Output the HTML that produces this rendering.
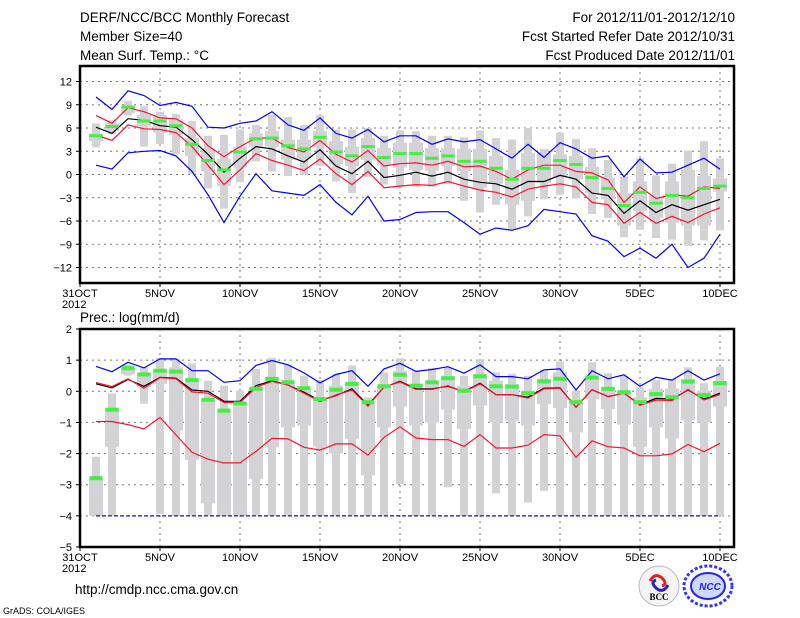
<!DOCTYPE html>
<html><head><meta charset="utf-8"><style>
body{margin:0;background:#fff;width:800px;height:618px;overflow:hidden}
svg{display:block}
text{font-family:"Liberation Sans",sans-serif;fill:#000}
</style></head><body>
<svg id="chart" width="800" height="618" xmlns="http://www.w3.org/2000/svg">
<g font-size="13.5">
<text x="80" y="22">DERF/NCC/BCC Monthly Forecast</text>
<text x="80" y="41">Member Size=40</text>
<text x="80" y="60">Mean Surf. Temp.: °C</text>
<text x="735" y="22" text-anchor="end">For 2012/11/01-2012/12/10</text>
<text x="735" y="41" text-anchor="end">Fcst Started Refer Date 2012/10/31</text>
<text x="735" y="60" text-anchor="end">Fcst Produced Date 2012/11/01</text>
<text x="80" y="322">Prec.: log(mm/d)</text>
<text x="75" y="594">http://cmdp.ncc.cma.gov.cn</text>
<text x="3" y="614" font-size="9">GrADS: COLA/IGES</text>
</g>
<g>
<circle cx="659" cy="586" r="20" fill="#f4f4f4" stroke="#bbb"/>
<path d="M650 581 q5 -9 12 -3 q6 6 0 8" fill="none" stroke="#d22" stroke-width="3"/>
<path d="M668 585 q-5 9 -12 3 q-6 -6 0 -8" fill="none" stroke="#22c" stroke-width="3"/>
<text x="659" y="600" font-size="9" text-anchor="middle" font-weight="bold" style="font-family:'Liberation Serif',serif">BCC</text>
</g>
<g>
<ellipse cx="708" cy="586" rx="24" ry="20" fill="#fff" stroke="#33f" stroke-width="3" stroke-dasharray="3 2"/>
<ellipse cx="708" cy="586" rx="17" ry="13" fill="#cfd8ff" stroke="#22f" stroke-width="2"/>
<text x="710" y="590" font-size="10" text-anchor="middle" font-weight="bold" font-style="italic" style="fill:#22f">NCC</text>
</g>
</svg>
<script>
// ---- data (days 1..40 : 2012/11/01 .. 2012/12/10)
const xTickLabels=["31OCT","5NOV","10NOV","15NOV","20NOV","25NOV","30NOV","5DEC","10DEC"];
const tTicks=[12,9,6,3,0,-3,-6,-9,-12];
const pTicks=[2,1,0,-1,-2,-3,-4,-5];
const tMaxLine=[10.0,8.4,10.8,10.2,8.9,9.3,8.8,6.1,6.0,6.6,6.9,8.1,6.4,5.7,7.3,5.3,4.7,5.8,4.2,5.0,5.0,3.9,4.6,4.2,4.5,3.3,2.1,3.9,2.2,4.1,3.3,2.1,2.4,-0.3,2.0,0.2,0.3,1.2,2.1,0.7];
const tMinLine=[1.2,0.7,2.8,3.0,3.1,2.4,0.4,-2.6,-6.2,-2.8,0.1,-2.1,-2.4,-2.7,-1.3,-3.6,-5.2,-2.8,-6.0,-5.8,-4.9,-4.8,-4.8,-6.2,-7.7,-6.9,-7.2,-6.6,-4.5,-4.8,-5.1,-7.9,-8.6,-10.6,-9.5,-10.8,-9.0,-12.0,-10.8,-7.7];
const tRedHi=[7.6,6.6,8.6,8.1,7.3,7.2,6.0,3.7,2.3,3.6,4.7,4.7,3.5,2.9,4.4,2.6,1.6,3.1,1.1,1.4,1.5,1.2,1.7,1.0,1.1,0.4,-0.6,0.6,1.2,1.2,0.4,0.2,-0.7,-3.6,-1.6,-3.1,-2.6,-2.8,-1.6,-1.8];
const tMean=[6.1,5.3,7.2,7.0,6.3,6.1,4.5,2.6,0.3,2.1,3.6,3.3,2.4,1.6,3.2,1.1,0.1,1.7,-0.4,-0.1,0.3,-0.2,0.3,-0.6,-1.0,-1.2,-1.9,-0.9,-0.9,-0.1,-0.6,-2.4,-2.7,-5.0,-3.4,-4.9,-3.9,-4.6,-3.9,-3.2];
const tRedLo=[5.1,4.4,6.4,5.9,5.8,5.4,3.6,1.2,-1.3,0.6,2.7,1.8,1.2,0.5,2.0,0.1,-1.3,0.4,-1.7,-1.5,-1.3,-1.4,-0.9,-1.5,-2.0,-2.3,-2.9,-1.9,-1.5,-1.2,-1.6,-3.6,-3.9,-6.3,-4.9,-6.3,-5.4,-6.2,-5.1,-4.3];
const tGreen=[5.0,6.2,8.7,6.9,6.9,6.3,3.9,1.8,0.6,2.9,4.6,4.7,3.7,3.3,4.8,2.9,2.4,3.6,2.2,2.7,2.7,2.1,2.4,1.7,1.7,0.8,-0.6,0.8,0.8,1.8,1.3,-0.4,-1.8,-4.0,-2.3,-3.7,-2.7,-3.0,-1.8,-1.5];
const tBoxMax=[6.6,7.0,9.5,8.8,8.1,7.8,6.9,5.0,5.1,5.8,6.4,7.7,7.4,6.4,7.7,5.8,5.8,6.0,5.0,5.7,5.6,5.0,5.0,4.8,5.7,4.7,4.5,6.0,3.3,5.4,4.6,3.4,1.9,-0.3,2.1,-0.1,1.4,3.1,4.3,2.1];
const tBoxQ3=[5.3,6.6,8.8,7.7,7.7,7.1,4.7,3.4,2.0,3.6,5.3,5.6,4.5,4.5,5.6,4.3,3.6,4.7,3.4,4.1,4.1,3.4,3.4,3.3,3.3,2.4,0.6,2.8,2.8,2.6,2.4,1.0,-0.4,-2.4,-0.9,-2.8,-0.9,0.6,-0.2,-0.5];
const tBoxQ1=[4.3,5.6,7.9,6.2,5.4,5.1,2.4,0.4,-1.5,0.9,3.6,3.6,1.9,2.0,3.6,1.3,1.1,1.9,1.2,0.9,0.6,0.5,1.1,0.4,-1.7,-1.2,-3.9,-3.4,-1.1,-0.4,-0.6,-2.4,-3.2,-6.6,-4.7,-5.6,-6.2,-6.6,-6.6,-2.2];
const tBoxMin=[3.5,5.2,7.6,3.6,3.9,2.6,0.1,-1.8,-4.4,-1.0,1.7,0.4,-0.2,-0.1,1.1,-0.9,-2.4,-0.3,-1.3,-1.5,-1.6,-1.6,-1.2,-3.4,-4.9,-3.9,-7.2,-5.4,-3.2,-2.6,-3.1,-5.1,-5.6,-8.1,-7.1,-8.2,-8.4,-9.2,-8.5,-7.2];
const pMaxLine=[0.8,0.63,0.93,0.75,1.04,1.04,0.66,0.66,0.29,0.34,0.83,0.99,0.85,0.59,0.27,0.54,0.66,0.16,0.72,0.9,0.64,0.7,0.79,0.58,0.85,0.47,0.47,0.4,0.69,0.72,0.04,0.66,0.4,0.53,0.16,0.45,0.36,0.66,0.36,0.56];
const pMinLine=[-4,-4,-4,-4,-4,-4,-4,-4,-4,-4,-4,-4,-4,-4,-4,-4,-4,-4,-4,-4,-4,-4,-4,-4,-4,-4,-4,-4,-4,-4,-4,-4,-4,-4,-4,-4,-4,-4,-4,-4];
const pRedHi=[0.28,0.15,0.4,0.1,0.44,0.4,-0.02,-0.06,-0.36,-0.36,0.12,0.32,0.2,-0.06,-0.33,-0.12,0.04,-0.48,0.14,0.3,0.06,0.06,0.18,-0.03,0.24,-0.11,-0.11,-0.22,0.08,0.1,-0.51,0.05,-0.17,-0.06,-0.45,-0.28,-0.3,0.06,-0.28,-0.1];
const pMean=[0.24,0.11,0.38,0.16,0.45,0.42,0.04,0,-0.32,-0.32,0.18,0.34,0.2,-0.03,-0.3,-0.14,0.08,-0.44,0.13,0.32,0.08,0.08,0.16,-0.01,0.26,-0.11,-0.11,-0.19,0.1,0.11,-0.51,0.05,-0.17,-0.06,-0.43,-0.23,-0.25,0.04,-0.25,-0.06];
const pRedLo=[-0.97,-0.97,-1.07,-1.21,-0.84,-1.4,-1.96,-2.18,-2.3,-2.3,-1.93,-1.51,-1.53,-1.8,-1.89,-1.69,-1.69,-2.05,-1.48,-1.14,-1.5,-1.55,-1.55,-1.77,-1.39,-1.82,-1.82,-1.73,-1.39,-1.43,-2.12,-1.59,-1.78,-1.82,-2.07,-2.07,-2.01,-1.71,-1.94,-1.67];
const pGreen=[-2.79,-0.59,0.74,0.54,0.66,0.63,0.36,-0.27,-0.62,-0.39,0.08,0.4,0.29,0.1,-0.25,0.05,0.24,-0.35,0.16,0.53,0.18,0.29,0.42,0.02,0.48,0.16,0.15,-0.06,0.32,0.4,-0.35,0.44,0.08,-0.03,-0.35,-0.09,-0.19,0.31,-0.12,0.26];
const pBoxMax=[-2.1,-0.07,0.85,0.77,1.07,1.04,0.9,0.34,0.18,0.02,0.72,1.07,0.85,0.5,0.36,0.56,0.83,-0.19,0.61,1.06,0.66,0.75,0.77,0.5,1.0,0.61,0.56,0.5,0.69,0.96,0.02,0.93,0.58,0.5,0.13,0.36,0.4,0.77,0.26,0.79];
const pBoxQ3=[-2.8,-0.54,0.75,0.6,0.72,0.77,0.4,-0.25,-0.68,-0.35,0.13,0.45,0.24,0.08,-0.21,0.18,0.29,-0.4,0.18,0.66,0.24,0.34,0.5,0.18,0.56,0.34,0.24,0.02,0.4,0.61,-0.25,0.5,0.13,0.02,-0.19,0.08,0.08,0.4,0.02,0.34];
const pBoxQ1=[-4,-1.78,0.55,0.13,0.24,-1.26,-2.2,-3.6,-4,-4,-2.82,-1.8,-1.16,-1.1,-1.78,-2.0,-1.53,-2.7,-1.16,-0.49,-1.1,-1.0,-0.59,-1.21,-0.46,-1.0,-0.94,-1.1,-0.41,-0.54,-1.32,-0.25,-0.57,-1.07,-1.78,-1.16,-1.51,-0.92,-1.0,-0.49];
const pBoxMin=[-4,-4,0.5,-0.4,-3.94,-4,-4,-4,-4,-4,-4,-4,-4,-4,-4,-4,-4,-4,-4,-2.98,-4,-4,-3.08,-4,-4,-3.28,-4,-3.57,-3.2,-4,-4,-4,-4,-4,-4,-4,-4,-4,-4,-4];

const NS="http://www.w3.org/2000/svg";
const svg=document.getElementById('chart');
function mk(tag,attrs,parent){const e=document.createElementNS(NS,tag);for(const k in attrs)e.setAttribute(k,attrs[k]);(parent||svg).appendChild(e);return e;}
const X0=80,X1=734,DAYPX=16;
function xs(d){return X0+d*DAYPX;}

function panel(name,top,bot,vmax,vmin,ticks,bmax,bq3,bq1,bmin,lines,green,greenH){
  const g=mk('g',{});
  
  
  const ys=v=>top+(vmax-v)/(vmax-vmin)*(bot-top);
  ticks.forEach(t=>{
    const y=ys(t);
    if(t<vmax&&t>vmin){const l=mk('line',{x1:X0,x2:X1,y1:y,y2:y,stroke:'#777','stroke-dasharray':'2 4','stroke-width':1},g);
    
    }
    const tk=mk('line',{x1:X0-4,x2:X0,y1:y,y2:y,stroke:'#000'},g);
    
    
    const tx=mk('text',{x:X0-8,y:y+4,'font-size':11,'text-anchor':'end'},g);
    tx.textContent=(t<0?'\u2212'+(-t):t);
    
    
  });
  xTickLabels.forEach((lab,i)=>{
    const x=xs(i*5);
    if(i>0){const l=mk('line',{x1:x,x2:x,y1:top,y2:bot,stroke:'#777','stroke-dasharray':'2 4'},g);
    
    }
    const tx=mk('text',{x:x,y:bot+14,'font-size':11,'text-anchor':'middle'},g);
    tx.textContent=lab;
    
    
  });
  const yr=mk('text',{x:62,y:bot+25,'font-size':11},g);
  yr.textContent='2012';
  
  
  for(let i=0;i<bmax.length;i++){
    const x=xs(i+1);
    const o=mk('rect',{x:x-4,y:ys(bmax[i]),width:8,height:Math.max(1,ys(bmin[i])-ys(bmax[i])),fill:'#d3d3d6'},g);
    
    
    const b=mk('rect',{x:x-7,y:ys(bq3[i]),width:14,height:Math.max(1,ys(bq1[i])-ys(bq3[i])),fill:'#d3d3d6'},g);
    
    
  }
  lines.forEach(([arr,col,nm,dash])=>{
    const pts=arr.map((v,i)=>xs(i+1)+','+ys(v).toFixed(1)).join(' ');
    const p=mk('polyline',{points:pts,fill:'none',stroke:col,'stroke-width':1.2},g);
    if(dash)p.setAttribute('stroke-dasharray',dash);
    
    
  });
  green.forEach((v,i)=>{
    const r=mk('rect',{x:xs(i+1)-6.5,y:ys(v)-greenH/2,width:13,height:greenH,fill:'#44ee44'},g);
    
    
  });
  const f=mk('rect',{x:X0,y:top,width:X1-X0,height:bot-top,fill:'none',stroke:'#000','stroke-width':2.5},g);
  
  
  xTickLabels.forEach((lab,i)=>{
    const x=xs(i*5);
    const t=mk('line',{x1:x,x2:x,y1:bot,y2:bot+4,stroke:'#000'},g);
    
    
  });
}
panel('temperature-panel',66,283,14,-14,tTicks,tBoxMax,tBoxQ3,tBoxQ1,tBoxMin,
  [[tMaxLine,'#0000ff','max-line'],[tMinLine,'#0000ff','min-line'],[tRedHi,'#ff1030','upper-red-line'],[tRedLo,'#ff1030','lower-red-line'],[tMean,'#000','mean-line']],tGreen,3);
panel('precipitation-panel',329,547,2,-5,pTicks,pBoxMax,pBoxQ3,pBoxQ1,pBoxMin,
  [[pMaxLine,'#0000ff','max-line'],[pMinLine,'#1a1a9a','min-line','4 2'],[pRedLo,'#ff1030','lower-red-line'],[pMean,'#000','mean-line'],[pRedHi,'#ff1030','upper-red-line']],pGreen,4);
</script>
</body></html>
